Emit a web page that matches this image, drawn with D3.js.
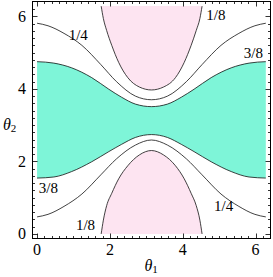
<!DOCTYPE html>
<html>
<head>
<meta charset="utf-8">
<script src="https://cdn.jsdelivr.net/npm/d3@7"></script>
<style>
  body { margin: 0; background: #fff; }
  svg { display: block; }
</style>
</head>
<body>
<div id="chart"></div>
<script>
// contour curves, theta values in radians
const pinkTheta1 = [1.76, 1.82, 1.91, 2.05, 2.24, 2.49, 2.81, 3.14, 3.47, 3.80, 4.04, 4.23, 4.37, 4.47, 4.53];
const pinkUpper  = [6.28, 5.94, 5.61, 5.20, 4.73, 4.31, 4.05, 3.97, 4.05, 4.31, 4.73, 5.20, 5.61, 5.94, 6.28];
const pinkLower  = [0.00, 0.38, 0.78, 1.12, 1.52, 1.88, 2.18, 2.30, 2.18, 1.88, 1.52, 1.12, 0.78, 0.38, 0.00];

const quarterTheta1 = [0, 0.30, 0.74, 1.23, 1.75, 2.18, 2.70, 3.14, 3.58, 4.10, 4.53, 5.05, 5.54, 5.98, 6.28];
const quarterUpper  = [5.81, 5.74, 5.53, 5.20, 4.67, 4.20, 3.80, 3.70, 3.80, 4.20, 4.67, 5.20, 5.53, 5.74, 5.81];
const quarterLower  = [0.47, 0.54, 0.76, 1.10, 1.63, 2.07, 2.45, 2.59, 2.45, 2.07, 1.63, 1.10, 0.76, 0.54, 0.47];

const cyanTheta1 = [0, 0.46, 0.95, 1.50, 1.97, 2.32, 2.70, 3.14, 3.58, 3.96, 4.31, 4.78, 5.33, 5.82, 6.28];
const cyanUpper  = [4.75, 4.71, 4.58, 4.31, 3.99, 3.77, 3.58, 3.51, 3.58, 3.77, 3.99, 4.31, 4.58, 4.71, 4.75];
const cyanLower  = [1.54, 1.57, 1.72, 1.99, 2.27, 2.47, 2.66, 2.74, 2.66, 2.47, 2.27, 1.99, 1.72, 1.57, 1.54];

const majorTicks = [0, 2, 4, 6];
const contourLabels = [
  { text: "1/4", t1: 1.13, t2: 5.49 },
  { text: "1/8", t1: 4.91, t2: 6.03 },
  { text: "3/8", t1: 5.94, t2: 4.98 },
  { text: "3/8", t1: 0.31, t2: 1.28 },
  { text: "1/8", t1: 1.33, t2: 0.26 },
  { text: "1/4", t1: 5.12, t2: 0.76 }
];

const width = 273;
const height = 277;
const tMax = 2 * Math.PI;
const pad = 0.02 * tMax;

const svg = d3.select("#chart")
  .append("svg")
  .attr("width", width)
  .attr("height", height);

const x = d3.scaleLinear().domain([-pad, tMax + pad]).range([32.5, 270.5]);
const y = d3.scaleLinear().domain([-pad, tMax + pad]).range([238.5, 1.5]);

const pts = (t1, t2) => t1.map((v, i) => [v, t2[i]]);

svg.append("clipPath").attr("id", "plotclip")
  .append("rect")
  .attr("x", x(0)).attr("y", y(tMax))
  .attr("width", x(tMax) - x(0)).attr("height", y(0) - y(tMax));

const plot = svg.append("g").attr("clip-path", "url(#plotclip)");

const curve = d3.curveMonotoneX;

// cyan band (above 3/8)
plot.append("path")
  .datum(cyanTheta1.map((v, i) => [v, cyanLower[i], cyanUpper[i]]))
  .attr("fill", "#7ef5d8")
  .attr("d", d3.area().curve(curve)
    .x(d => x(d[0])).y0(d => y(d[1])).y1(d => y(d[2])));

// pink regions (below 1/8)
plot.append("path")
  .datum(pts(pinkTheta1, pinkUpper))
  .attr("fill", "#fde4f1")
  .attr("d", d3.area().curve(curve)
    .x(d => x(d[0])).y0(d => y(d[1])).y1(y(tMax) - 2));

plot.append("path")
  .datum(pts(pinkTheta1, pinkLower))
  .attr("fill", "#fde4f1")
  .attr("d", d3.area().curve(curve)
    .x(d => x(d[0])).y0(y(0) + 2).y1(d => y(d[1])));

const line = d3.line().curve(curve).x(d => x(d[0])).y(d => y(d[1]));

[
  pts(pinkTheta1, pinkUpper), pts(pinkTheta1, pinkLower),
  pts(quarterTheta1, quarterUpper), pts(quarterTheta1, quarterLower),
  pts(cyanTheta1, cyanUpper), pts(cyanTheta1, cyanLower)
].forEach(c => {
  plot.append("path")
    .datum(c)
    .attr("fill", "none")
    .attr("stroke", "#111")
    .attr("stroke-width", 0.8)
    .attr("d", line);
});

// frame
svg.append("rect")
  .attr("x", x(-pad)).attr("y", y(tMax + pad))
  .attr("width", x(tMax + pad) - x(-pad))
  .attr("height", y(-pad) - y(tMax + pad))
  .attr("fill", "none")
  .attr("stroke", "#000")
  .attr("stroke-width", 1);

// ticks on all four sides
const minorTicks = d3.range(0, 6.3, 0.2).filter(v => Math.abs(v - Math.round(v / 2) * 2) > 0.01);
const tickG = svg.append("g").attr("stroke", "#000").attr("stroke-width", 0.8);
const addTicks = (vals, len) => {
  vals.forEach(v => {
    const xv = Math.round(x(v)) + 0.5;
    const yv = Math.round(y(v)) + 0.5;
    tickG.append("line").attr("x1", xv).attr("x2", xv).attr("y1", y(-pad)).attr("y2", y(-pad) - len);
    tickG.append("line").attr("x1", xv).attr("x2", xv).attr("y1", y(tMax + pad)).attr("y2", y(tMax + pad) + len);
    tickG.append("line").attr("y1", yv).attr("y2", yv).attr("x1", x(-pad)).attr("x2", x(-pad) + len);
    tickG.append("line").attr("y1", yv).attr("y2", yv).attr("x1", x(tMax + pad)).attr("x2", x(tMax + pad) - len);
  });
};
addTicks(majorTicks, 5);
addTicks(minorTicks, 2.5);

const font = "'Liberation Serif', 'DejaVu Serif', serif";

svg.append("g").selectAll("text")
  .data(majorTicks)
  .join("text")
  .attr("x", d => x(d))
  .attr("y", 255)
  .attr("text-anchor", "middle")
  .style("font-family", font)
  .style("font-size", "16px")
  .text(d => d);

svg.append("g").selectAll("text")
  .data(majorTicks)
  .join("text")
  .attr("x", 26)
  .attr("y", d => y(d) + 5.5)
  .attr("text-anchor", "end")
  .style("font-family", font)
  .style("font-size", "16px")
  .text(d => d);

// axis titles
const t1 = svg.append("text")
  .attr("x", x(Math.PI) - 7).attr("y", 271)
  .style("font-family", font).style("font-size", "16px");
t1.append("tspan").style("font-style", "italic").text("θ");
t1.append("tspan").attr("dy", 2).style("font-size", "11px").text("1");

const t2 = svg.append("text")
  .attr("x", 3).attr("y", 130)
  .style("font-family", font).style("font-size", "16px");
t2.append("tspan").style("font-style", "italic").text("θ");
t2.append("tspan").attr("dy", 2).style("font-size", "11px").text("2");

// contour labels
svg.append("g").selectAll("text")
  .data(contourLabels)
  .join("text")
  .attr("x", d => x(d.t1))
  .attr("y", d => y(d.t2) + 5)
  .attr("text-anchor", "middle")
  .style("font-family", font)
  .style("font-size", "15px")
  .text(d => d.text);
</script>
</body>
</html>
